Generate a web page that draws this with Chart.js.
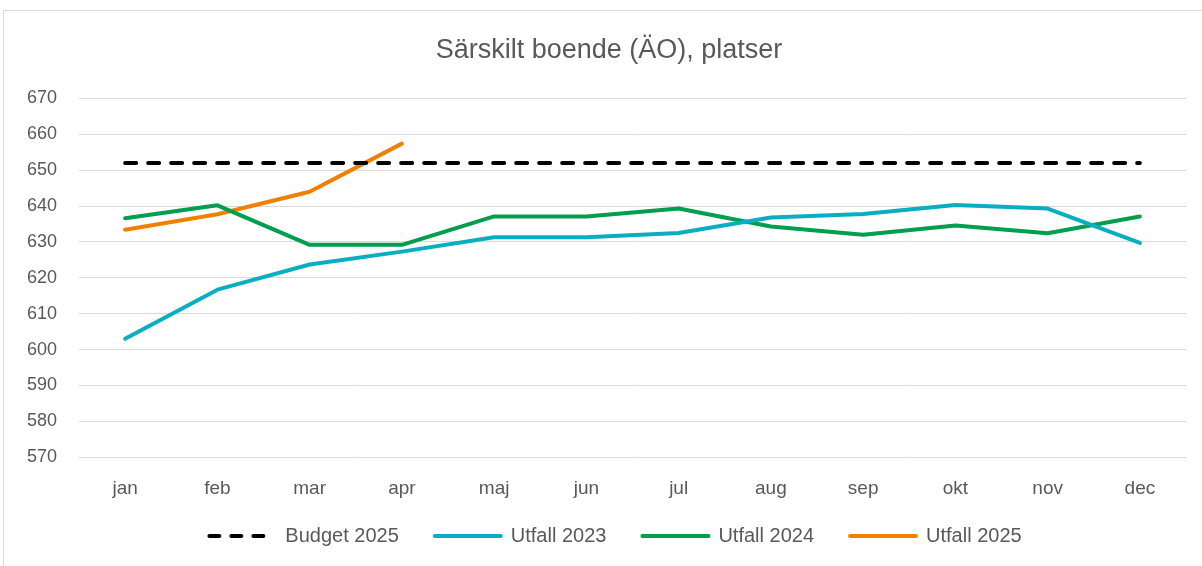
<!DOCTYPE html>
<html>
<head>
<meta charset="utf-8">
<script src="https://cdn.jsdelivr.net/npm/chart.js@4"></script>
<style>
    body { margin: 0; background: #fff; }
    #box {
        position: absolute;
        left: 3px; top: 10px;
        width: 1205px; height: 560px;
        border: 1px solid #d9d9d9;
        box-sizing: border-box;
    }
</style>
</head>
<body>
<div id="box"><canvas id="chart"></canvas></div>
<script>
// data
let months = ["jan", "feb", "mar", "apr", "maj", "jun", "jul", "aug", "sep", "okt", "nov", "dec"];
let budget2025 = [652, 652, 652, 652, 652, 652, 652, 652, 652, 652, 652, 652];
let utfall2023 = [603, 616.7, 623.7, 627.3, 631.3, 631.3, 632.5, 636.8, 637.8, 640.3, 639.3, 629.7];
let utfall2024 = [636.6, 640.2, 629.2, 629.2, 637.1, 637.1, 639.3, 634.3, 632, 634.6, 632.4, 637.1];
let utfall2025 = [633.4, 637.7, 644, 657.4];
let yTicks = [570, 580, 590, 600, 610, 620, 630, 640, 650, 660, 670];

let font = "'Liberation Sans', sans-serif";
let grey = "#595959";

// nudge title and legend a bit right, and stop the x labels from being clipped
let nudge = {
    id: "nudge",
    afterLayout(chart) {
        chart.scales.x.bottom += 22;
        chart.titleBlock.left += 27;
        chart.legend.left += 40;
    }
};

let ctx = document.getElementById("chart").getContext("2d");

let chart = new Chart(ctx, {
    type: "line",
    plugins: [nudge],
    data: {
        labels: months,
        datasets: [{
            label: "Budget 2025",
            data: budget2025,
            borderColor: "#000000",
            borderWidth: 4,
            borderDash: [11, 12],
            borderCapStyle: "round"
        }, {
            label: "Utfall 2023",
            data: utfall2023,
            borderColor: "#0aaec2",
            borderWidth: 4,
            borderCapStyle: "round"
        }, {
            label: "Utfall 2024",
            data: utfall2024,
            borderColor: "#009e4e",
            borderWidth: 4,
            borderCapStyle: "round"
        }, {
            label: "Utfall 2025",
            data: utfall2025,
            borderColor: "#f08100",
            borderWidth: 4,
            borderCapStyle: "round"
        }]
    },
    options: {
        responsive: true,
        maintainAspectRatio: false,
        animation: false,
        elements: {
            point: { radius: 0 },
            line: { tension: 0, borderJoinStyle: "round" }
        },
        layout: { padding: { left: 1, right: 21, top: 23, bottom: 13 } },
        plugins: {
            title: {
                display: true,
                text: "Särskilt boende (ÄO), platser",
                color: grey,
                font: { family: font, size: 27, weight: "normal" },
                padding: { top: 0, bottom: 32 }
            },
            legend: {
                position: "bottom",
                labels: {
                    usePointStyle: true,
                    pointStyle: "line",
                    pointStyleWidth: 66,
                    boxHeight: 10,
                    color: grey,
                    font: { family: font, size: 20 },
                    padding: 36,
                    // keep the dash pattern in the legend
                    generateLabels: function (chart) {
                        let items = Chart.defaults.plugins.legend.labels.generateLabels(chart);
                        items.forEach(item => {
                            let ds = chart.data.datasets[item.datasetIndex];
                            item.lineDash = ds.borderDash ? [10, 12] : [];
                            item.lineCap = "round";
                        });
                        return items;
                    }
                }
            },
            tooltip: { enabled: false }
        },
        scales: {
            x: {
                offset: true,
                grid: { display: false },
                border: { display: false },
                ticks: {
                    color: grey,
                    font: { family: font, size: 19 },
                    padding: 12
                },
                // let the plot reach further down, labels follow it
                afterFit: function (axis) {
                    axis.height -= 22;
                }
            },
            y: {
                min: 570,
                max: 670,
                afterBuildTicks: function (axis) {
                    axis.ticks = yTicks.map(v => ({ value: v }));
                },
                grid: { color: "#d9d9d9", lineWidth: 1, drawTicks: false },
                border: { display: false },
                ticks: {
                    color: grey,
                    font: { family: font, size: 18 },
                    padding: 22
                }
            }
        }
    }
});
</script>
</body>
</html>
